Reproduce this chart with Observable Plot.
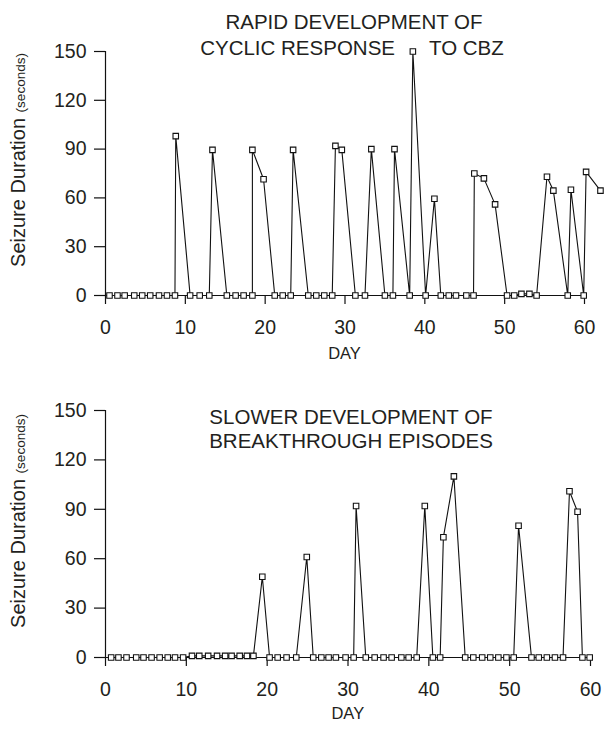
<!DOCTYPE html>
<html>
<head>
<meta charset="utf-8">
<script src="https://cdn.jsdelivr.net/npm/d3@7"></script>
<script src="https://cdn.jsdelivr.net/npm/@observablehq/plot@0.6"></script>
<style>
  html, body { margin: 0; padding: 0; background: #fff; }
  #wrap { width: 607px; }
  #wrap svg { display: block; }
</style>
</head>
<body>
<div id="wrap"></div>
<script>
// ---------- text ----------
const topTitle = ["RAPID DEVELOPMENT OF", "CYCLIC RESPONSE", "TO CBZ"];
const bottomTitle = ["SLOWER DEVELOPMENT OF", "BREAKTHROUGH EPISODES"];
const xLabel = "DAY";
const yLabelMain = "Seizure Duration";
const yLabelUnit = "(seconds)";

// ---------- ticks ----------
const yTicks = [0, 30, 60, 90, 120, 150];
const xTicks = [0, 10, 20, 30, 40, 50, 60];

// ---------- data (in recording order) ----------
const topDays = [0.5, 1.5, 2.4, 3.6, 4.6, 5.6, 6.7, 7.7, 8.7, 8.8,
  10.6, 11.8, 13.0, 13.4, 15.2, 16.3, 17.3, 18.4, 18.4, 19.8,
  21.2, 22.2, 23.2, 23.5, 25.4, 26.4, 27.4, 28.4, 28.8, 29.6,
  31.3, 32.5, 33.3, 35.0, 36.0, 36.2, 38.1, 38.5, 40.1, 41.2,
  42.0, 43.0, 43.9, 45.2, 46.1, 46.2, 47.4, 48.8, 50.3, 51.2,
  52.1, 53.1, 54.0, 55.3, 56.1, 57.9, 58.3, 59.9, 60.2, 62.0];
const topSeconds = [0, 0, 0, 0, 0, 0, 0, 0, 0, 98,
  0, 0, 0, 89.5, 0, 0, 0, 0, 89.5, 71.5,
  0, 0, 0, 89.5, 0, 0, 0, 0, 92, 89.5,
  0, 0, 90, 0, 0, 90, 0, 150, 0, 59.5,
  0, 0, 0, 0, 0, 75, 72, 56, 0, 0,
  1, 1, 0, 73, 64.5, 0, 65, 0, 76, 64.5];

const bottomDays = [0.7, 1.6, 2.6, 3.8, 4.7, 5.7, 6.7, 7.7, 8.6, 9.6,
  10.7, 11.6, 12.7, 13.8, 14.8, 15.6, 16.6, 17.5, 18.3, 19.4,
  20.3, 21.3, 22.4, 23.6, 24.9, 25.7, 26.7, 27.6, 28.5, 29.7,
  30.7, 31.0, 32.2, 33.3, 34.4, 35.4, 36.6, 37.5, 38.5, 39.5,
  40.5, 41.4, 41.8, 43.1, 44.5, 45.5, 46.6, 47.6, 48.6, 49.6,
  50.5, 51.1, 52.7, 53.6, 54.6, 55.6, 56.6, 57.4, 58.4, 59.0, 59.9];
const bottomSeconds = [0, 0, 0, 0, 0, 0, 0, 0, 0, 0,
  1, 1, 1, 1, 1, 1, 1, 1, 1, 49,
  0, 0, 0, 0, 61, 0, 0, 0, 0, 0,
  0, 92, 0, 0, 0, 0, 0, 0, 0, 92,
  0, 0, 73, 110, 0, 0, 0, 0, 0, 0,
  0, 80, 0, 0, 0, 0, 0, 101, 88.5, 0, 0];

// ---------- style ----------
const FONT = "'Liberation Sans', Arial, Helvetica, sans-serif";
const INK = "#231f20";

function panel({days, secs, height, marginTop, marginBottom, marginRight}) {
  const data = days.map((d, i) => ({day: d, sec: secs[i]}));
  return Plot.plot({
    width: 607,
    height,
    marginLeft: 105,
    marginRight,
    marginTop,
    marginBottom,
    style: {fontFamily: FONT, fontSize: "19.5px", color: INK, background: "#fff", overflow: "visible"},
    x: {domain: [0, 60]},
    y: {domain: [0, 150]},
    marks: [
      Plot.axisY(yTicks, {tickSize: 11, tickPadding: 8, label: null, stroke: "#111", strokeWidth: 1.2}),
      Plot.axisX(xTicks, {tickSize: 9, tickPadding: 16, label: null, stroke: "#111", strokeWidth: 1.2}),
      Plot.ruleX([0], {stroke: "#111", strokeWidth: 1.2}),
      Plot.ruleY([0], {stroke: "#111", strokeWidth: 1.2}),
      Plot.line(data, {x: "day", y: "sec", stroke: "#111", strokeWidth: 1.1}),
      Plot.dot(data, {x: "day", y: "sec", symbol: "square", r: 3.1, fill: "#fff", stroke: "#111", strokeWidth: 1.1})
    ]
  });
}

function addText(svg, txt, x, y, size, anchor) {
  return d3.select(svg).append("text")
    .attr("x", x).attr("y", y).attr("dy", "0.36em")
    .attr("text-anchor", anchor)
    .attr("font-family", FONT).attr("font-size", size)
    .attr("fill", INK)
    .text(txt);
}

function addYLabel(svg, cy) {
  const t = d3.select(svg).append("text")
    .attr("transform", `translate(25,${cy}) rotate(-90)`)
    .attr("text-anchor", "middle")
    .attr("font-family", FONT).attr("font-size", 20)
    .attr("fill", INK);
  t.append("tspan").text(yLabelMain + " ");
  t.append("tspan").attr("font-size", 13.5).text(yLabelUnit);
}

const wrap = document.getElementById("wrap");

// Top panel (page y 0..370)
const topPanel = panel({days: topDays, secs: topSeconds, height: 370, marginTop: 51, marginBottom: 75, marginRight: 23});
addText(topPanel, topTitle[0], 354, 22, 20.5, "middle");
addText(topPanel, topTitle[1], 395, 48, 20.5, "end");
addText(topPanel, topTitle[2], 429, 48, 20.5, "start");
addText(topPanel, xLabel, 344.5, 353, 16.5, "middle");
addYLabel(topPanel, 160);
wrap.appendChild(topPanel);

// Bottom panel (page y 370..730)
const bottomPanel = panel({days: bottomDays, secs: bottomSeconds, height: 360, marginTop: 40, marginBottom: 73, marginRight: 17});
addText(bottomPanel, bottomTitle[0], 351, 47, 20.5, "middle");
addText(bottomPanel, bottomTitle[1], 351, 71, 20.5, "middle");
addText(bottomPanel, xLabel, 347.8, 343, 16.5, "middle");
addYLabel(bottomPanel, 151);
wrap.appendChild(bottomPanel);
</script>
</body>
</html>
